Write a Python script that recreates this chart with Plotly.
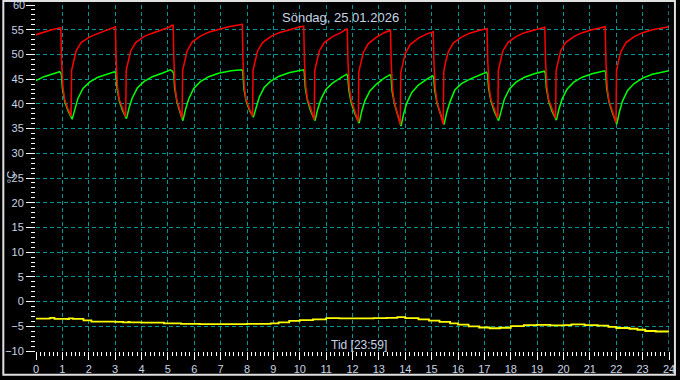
import plotly.graph_objects as go

# ---------------- data (hours, °C) ----------------
red_t = [0, 0.3, 0.6, 0.94,
         0.97, 1.02, 1.08, 1.21, 1.33, 1.35, 1.42, 1.52, 1.71, 2.02, 2.34, 2.71, 3.01,
         3.04, 3.09, 3.15, 3.28, 3.40, 3.42, 3.49, 3.59, 3.78, 4.09, 4.41, 4.78, 5.05, 5.15, 5.20,
         5.23, 5.27, 5.33, 5.44, 5.54, 5.56, 5.63, 5.73, 5.92, 6.23, 6.55, 6.92, 7.3, 7.82,
         7.85, 7.90, 7.96, 8.09, 8.21, 8.23, 8.30, 8.40, 8.59, 8.90, 9.22, 9.59, 9.95, 10.15,
         10.18, 10.23, 10.29, 10.42, 10.55, 10.57, 10.64, 10.74, 10.93, 11.24, 11.56, 11.80,
         11.83, 11.88, 11.95, 12.09, 12.22, 12.24, 12.31, 12.41, 12.60, 12.91, 13.2, 13.44,
         13.47, 13.52, 13.58, 13.70, 13.81, 13.83, 13.90, 14.00, 14.19, 14.50, 14.8, 15.06,
         15.09, 15.14, 15.20, 15.32, 15.44, 15.46, 15.53, 15.63, 15.82, 16.13, 16.45, 16.82, 17.10,
         17.13, 17.18, 17.24, 17.37, 17.51, 17.53, 17.60, 17.70, 17.89, 18.20, 18.52, 18.89, 19.29,
         19.32, 19.37, 19.43, 19.56, 19.70, 19.72, 19.79, 19.89, 20.08, 20.39, 20.71, 21.08, 21.58,
         21.61, 21.66, 21.72, 21.85, 21.99, 22.01, 22.08, 22.18, 22.37, 22.68, 23.0, 23.37, 24.0]
red_v = [54.0, 54.5, 55.0, 55.4,
         48.4, 43.5, 41.0, 39.0, 37.5, 46.8, 48.7, 50.7, 52.4, 53.5, 54.2, 54.9, 55.6,
         48.4, 43.5, 41.0, 39.0, 37.4, 46.8, 48.7, 50.7, 52.4, 53.6, 54.3, 55.0, 55.5, 55.9, 55.9,
         48.4, 43.5, 41.0, 39.0, 37.1, 46.8, 48.7, 50.7, 52.5, 53.7, 54.5, 55.1, 55.6, 56.1,
         48.4, 43.5, 41.0, 39.0, 37.5, 46.8, 48.7, 50.7, 52.4, 53.6, 54.4, 55.0, 55.5, 55.7,
         48.4, 43.5, 41.0, 39.0, 36.8, 46.8, 48.7, 50.7, 52.4, 53.6, 54.4, 55.2,
         48.2, 43.3, 40.8, 38.7, 36.4, 46.5, 48.4, 50.4, 52.2, 53.5, 54.4, 54.9,
         48.0, 43.0, 40.5, 38.2, 35.8, 46.3, 48.2, 50.2, 52.0, 53.3, 54.1, 54.6,
         48.0, 43.0, 40.5, 38.2, 35.9, 46.5, 48.5, 50.5, 52.3, 53.5, 54.3, 54.9, 55.2,
         48.4, 43.5, 41.0, 39.0, 37.1, 46.8, 48.7, 50.7, 52.4, 53.6, 54.4, 55.0, 55.5,
         48.4, 43.5, 41.0, 39.0, 37.1, 46.8, 48.7, 50.7, 52.4, 53.6, 54.4, 55.0, 55.6,
         48.2, 43.2, 40.7, 38.6, 36.2, 46.6, 48.6, 50.6, 52.4, 53.6, 54.4, 55.0, 55.6]

green_t = [0, 0.3, 0.6, 0.90,
           0.96, 1.00, 1.09, 1.22, 1.37, 1.47, 1.59, 1.78, 2.03, 2.35, 2.72, 2.97,
           3.03, 3.07, 3.16, 3.29, 3.43, 3.53, 3.65, 3.84, 4.09, 4.41, 4.78, 5.10, 5.17,
           5.22, 5.26, 5.35, 5.46, 5.57, 5.67, 5.79, 5.98, 6.23, 6.55, 6.92, 7.40, 7.80,
           7.84, 7.88, 7.97, 8.10, 8.24, 8.34, 8.46, 8.65, 8.90, 9.22, 9.59, 10.13,
           10.17, 10.21, 10.30, 10.43, 10.58, 10.68, 10.80, 10.99, 11.24, 11.56, 11.78,
           11.82, 11.86, 11.95, 12.09, 12.25, 12.35, 12.47, 12.66, 12.91, 13.2, 13.42,
           13.46, 13.50, 13.59, 13.71, 13.84, 13.94, 14.06, 14.25, 14.50, 14.82, 15.04,
           15.08, 15.12, 15.21, 15.34, 15.47, 15.57, 15.69, 15.88, 16.13, 16.45, 16.82, 17.08,
           17.12, 17.16, 17.25, 17.38, 17.54, 17.64, 17.76, 17.95, 18.20, 18.52, 18.89, 19.27,
           19.31, 19.35, 19.44, 19.57, 19.73, 19.83, 19.95, 20.14, 20.39, 20.71, 21.08, 21.56,
           21.60, 21.64, 21.73, 21.86, 22.02, 22.12, 22.24, 22.43, 22.68, 23.0, 23.37, 24.0]
green_v = [44.7, 45.5, 46.0, 46.5,
           46.0, 43.2, 40.5, 38.5, 36.9, 39.1, 41.1, 43.1, 44.4, 45.4, 46.1, 46.5,
           46.2, 43.2, 40.5, 38.5, 37.0, 39.2, 41.2, 43.2, 44.5, 45.5, 46.2, 46.9, 46.6,
           46.2, 43.0, 40.3, 38.3, 36.6, 38.9, 41.0, 43.1, 44.5, 45.5, 46.2, 46.7, 46.9,
           46.5, 43.2, 40.5, 38.6, 37.3, 39.4, 41.3, 43.3, 44.6, 45.6, 46.3, 46.9,
           46.5, 43.2, 40.5, 38.3, 36.6, 38.9, 40.9, 42.9, 44.2, 45.3, 46.0,
           45.6, 42.8, 40.2, 38.0, 36.1, 38.5, 40.6, 42.6, 44.0, 45.2, 45.9,
           45.5, 42.6, 40.0, 37.8, 35.5, 38.0, 40.2, 42.3, 43.8, 45.0, 45.7,
           45.3, 42.6, 40.0, 37.8, 35.8, 38.2, 40.3, 42.8, 44.1, 45.0, 45.9, 46.4,
           46.0, 43.2, 40.5, 38.4, 36.6, 38.9, 41.0, 43.0, 44.4, 45.4, 46.1, 46.6,
           46.2, 43.2, 40.5, 38.4, 36.7, 39.0, 41.0, 43.0, 44.4, 45.4, 46.1, 46.7,
           46.3, 43.0, 40.3, 38.1, 35.9, 38.4, 40.6, 42.7, 44.1, 45.2, 46.0, 46.7]

yellow_t = [0, 0.5, 0.55, 0.7, 1.2, 1.25, 1.4, 1.8, 2.1, 3.0, 3.3, 3.5, 3.55, 4.0, 4.85,
            5.5, 6.2, 7.0, 8.0, 8.9, 9.2, 9.6, 10.0, 10.5, 11.0, 11.5, 12.0, 12.8, 13.3,
            13.7, 14.0, 14.5, 14.9, 15.3, 15.7, 16.0, 16.4, 16.8, 17.2, 17.6, 18.0, 18.5,
            19.0, 19.5, 20.0, 20.3, 20.8, 21.3, 21.7, 22.0, 22.5, 22.8, 23.1, 23.5, 24.0]
yellow_v = [-3.45, -3.4, -3.3, -3.5, -3.55, -3.4, -3.5, -3.8, -4.05, -4.1, -4.2, -4.1,
            -4.2, -4.25, -4.4, -4.5, -4.55, -4.55, -4.5, -4.4, -4.2, -3.9, -3.75, -3.6,
            -3.35, -3.4, -3.4, -3.35, -3.3, -3.15, -3.35, -3.6, -3.85, -4.1, -4.4, -4.65,
            -5.0, -5.25, -5.4, -5.3, -4.95, -4.75, -4.7, -4.8, -4.75, -4.6, -4.75, -4.85,
            -5.1, -5.35, -5.5, -5.7, -5.95, -6.05, -6.05]

title_text = "Söndag, 25.01.2026"
x_title = "Tid [23:59]"
y_title = "°C"

# ---------------- figure ----------------
W, H = 680, 380
ML, MR, MT, MB = 34, 7, 5, 25
PW, PH = W - ML - MR, H - MT - MB

def px(x):
    return (x - ML) / PW

def py(y):
    return (H - MB - y) / PH

TXT = "#c8d4e4"
GRID = "#009696"

fig = go.Figure()
fig.add_trace(go.Scatter(x=yellow_t, y=yellow_v, mode="lines", line_shape="hv",
                         line=dict(color="#ffff00", width=1.8), hoverinfo="skip"))
fig.add_trace(go.Scatter(x=green_t, y=green_v, mode="lines",
                         line=dict(color="#00ff00", width=1.5), hoverinfo="skip"))
fig.add_trace(go.Scatter(x=red_t, y=red_v, mode="lines",
                         line=dict(color="#ff0000", width=1.5), hoverinfo="skip"))

axis_font = dict(family="Arial, Liberation Sans", size=11, color=TXT)

fig.update_xaxes(range=[0, 24], tickmode="linear", tick0=0, dtick=1,
                 ticks="outside", ticklen=8, tickwidth=1, tickcolor="white",
                 showgrid=True, gridcolor=GRID, gridwidth=1, griddash="4px,3px",
                 zeroline=False, showline=False, tickfont=axis_font,
                 minor=dict(dtick=1/6, tick0=0, ticks="outside", ticklen=4,
                            tickcolor="white", tickwidth=1, showgrid=False),
                 fixedrange=True)
fig.update_yaxes(range=[-10, 60], tickmode="linear", tick0=0, dtick=5,
                 ticks="outside", ticklen=9, tickwidth=1, tickcolor="white",
                 showgrid=True, gridcolor=GRID, gridwidth=1, griddash="4px,3px",
                 zeroline=False, showline=False, tickfont=axis_font,
                 minor=dict(dtick=1, tick0=0, ticks="outside", ticklen=4,
                            tickcolor="white", tickwidth=1, showgrid=False),
                 fixedrange=True)

fig.update_layout(
    width=W, height=H,
    margin=dict(l=ML, r=MR, t=MT, b=MB, pad=0),
    paper_bgcolor="black", plot_bgcolor="black",
    showlegend=False,
    annotations=[
        dict(text=title_text, xref="paper", yref="paper", x=px(341), y=py(18),
             xanchor="center", yanchor="middle", showarrow=False,
             font=dict(family="Arial, Liberation Sans", size=13, color=TXT)),
        dict(text=x_title, xref="paper", yref="paper", x=px(360), y=py(349),
             xanchor="center", yanchor="middle", showarrow=False,
             font=dict(family="Arial, Liberation Sans", size=12, color=TXT)),
        dict(text=y_title, xref="paper", yref="paper", x=px(9), y=py(179),
             xanchor="center", yanchor="middle", showarrow=False, textangle=-90,
             font=dict(family="Arial, Liberation Sans", size=11, color=TXT)),
        # top tick label (60) that plotly hides because it touches the page edge
        dict(text="60", xref="paper", yref="y", x=px(24.5), y=60,
             xanchor="right", yanchor="middle", showarrow=False,
             font=axis_font),
    ],
    shapes=[
        # right-edge grid line at 24 h
        dict(type="line", xref="x", yref="y", x0=24, x1=24, y0=-10, y1=60,
             line=dict(color="#20d8e8", width=1, dash="4px,3px")),
        dict(type="rect", xref="paper", yref="paper",
             x0=px(1), x1=px(679), y0=py(379), y1=py(1),
             line=dict(color="#e0e0e0", width=2), fillcolor="rgba(0,0,0,0)"),
    ],
)

fig.write_html("out.html")
